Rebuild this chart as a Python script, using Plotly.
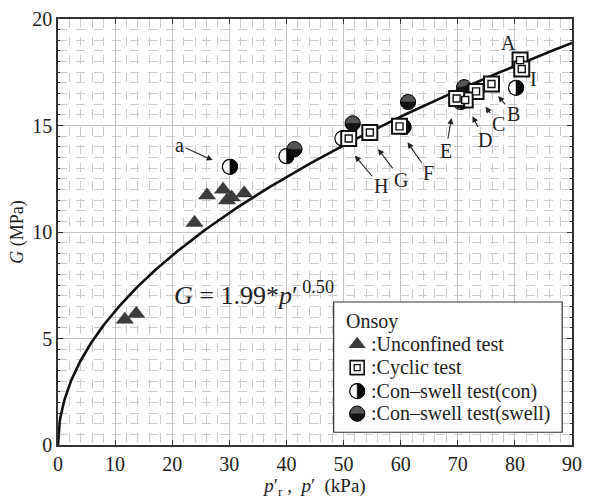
import numpy as np
import plotly.graph_objects as go

# ---- data ----
unc_x = [11.7, 13.7, 23.9, 26.1, 28.9, 29.6, 30.4, 32.6]
unc_y = [5.89, 6.16, 10.44, 11.72, 12.0, 11.49, 11.63, 11.82]

cyc_x = [80.9, 81.2, 75.9, 73.2, 71.3, 69.8, 59.8, 54.6, 50.9]
cyc_y = [18.07, 17.65, 16.95, 16.6, 16.2, 16.27, 14.96, 14.67, 14.39]
cyc_lab = ["A", "I", "B", "C", "D", "E", "F", "G", "H"]

con_x = [30.1, 40.0, 49.8, 60.5, 70.5, 80.2]
con_y = [13.06, 13.56, 14.39, 14.93, 16.1, 16.77]

swl_x = [41.4, 51.6, 61.3, 71.1]
swl_y = [13.89, 15.1, 16.1, 16.8]

fit_a = 1.99
fit_b = 0.50

# label text positions and arrow heads
lab_names = ["B", "C", "D", "E", "F", "G", "H", "a"]
lab_tx = [79.7, 77.1, 74.7, 67.9, 64.9, 60.1, 56.5, 21.3]
lab_ty = [15.54, 15.08, 14.34, 13.79, 12.78, 12.46, 12.14, 14.07]
lab_hx = [76.3, 74.1, 72.0, 69.1, 60.5, 55.3, 51.2, 28.2]
lab_hy = [16.64, 16.14, 15.72, 15.68, 14.48, 14.16, 13.84, 13.24]

leg_names = [":Unconfined test", ":Cyclic test", ":Con\u2013swell test(con)", ":Con\u2013swell test(swell)"]

FONT = "Liberation Serif"
TXT = "#222222"

# ---- geometry helpers (pixel, relative to anchor) ----
R = 7.5
K = 0.5523 * R


def full_circle(r=R, k=K):
    return (f"M {r},0 C {r},{k} {k},{r} 0,{r} C {-k},{r} {-r},{k} {-r},0 "
            f"C {-r},{-k} {-k},{-r} 0,{-r} C {k},{-r} {r},{-k} {r},0 Z")


def right_half(r=R, k=K):
    return f"M 0,{r} C {k},{r} {r},{k} {r},0 C {r},{-k} {k},{-r} 0,{-r} Z"


def top_half(r=R, k=K):
    return f"M {-r},0 C {-r},{k} {-k},{r} 0,{r} C {k},{r} {r},{k} {r},0 Z"


def bottom_half(r=R, k=K):
    return f"M {-r},0 C {-r},{-k} {-k},{-r} 0,{-r} C {k},{-r} {r},{-k} {r},0 Z"


def marker_shapes(xs, ys, kind, layer="between"):
    out = []
    for x, y in zip(xs, ys):
        base = dict(type="path", xref="x", yref="y", xanchor=x, yanchor=y,
                    xsizemode="pixel", ysizemode="pixel", layer=layer)
        if kind == "con":
            out.append(dict(base, path=full_circle(), fillcolor="white",
                            line=dict(color="black", width=1.2)))
            out.append(dict(base, path=right_half(), fillcolor="black",
                            line=dict(color="black", width=0.5)))
        else:
            out.append(dict(base, path=top_half(), fillcolor="#555555",
                            line=dict(color="#555555", width=0.5)))
            out.append(dict(base, path=bottom_half(), fillcolor="#111111",
                            line=dict(color="#111111", width=0.5)))
            out.append(dict(base, path=full_circle(), fillcolor="rgba(0,0,0,0)",
                            line=dict(color="black", width=1.0)))
    return out


fig = go.Figure()

# fit curve
px = np.linspace(0, 90, 600)
fig.add_trace(go.Scatter(x=px, y=fit_a * px ** fit_b, mode="lines",
                         line=dict(color="#111111", width=2.6),
                         showlegend=False, hoverinfo="skip"))

# unconfined test triangles
fig.add_trace(go.Scatter(x=unc_x, y=unc_y, mode="markers", showlegend=False,
                         marker=dict(symbol="triangle-up", size=15, color="#3c3c3c",
                                     line=dict(color="#3c3c3c", width=0.5))))

# cyclic test double squares
fig.add_trace(go.Scatter(x=cyc_x, y=cyc_y, mode="markers", showlegend=False,
                         marker=dict(symbol="square", size=15, color="white",
                                     line=dict(color="#111111", width=2))))
fig.add_trace(go.Scatter(x=cyc_x, y=cyc_y, mode="markers", showlegend=False,
                         marker=dict(symbol="square", size=7, color="white",
                                     line=dict(color="#111111", width=1.4))))

shapes = []
shapes += marker_shapes(con_x, con_y, "con")
shapes += marker_shapes(swl_x, swl_y, "swell")

annotations = []
LF = dict(family=FONT, size=20, color=TXT)
# A and I labels (no arrows)
annotations.append(dict(x=cyc_x[0] - 2.0, y=cyc_y[0] + 0.8, text="A", showarrow=False, font=LF))
annotations.append(dict(x=cyc_x[1] + 2.1, y=cyc_y[1] - 0.45, text="I", showarrow=False, font=LF))
for n, tx, ty, hx, hy in zip(lab_names, lab_tx, lab_ty, lab_hx, lab_hy):
    annotations.append(dict(x=hx, y=hy, ax=tx, ay=ty, axref="x", ayref="y",
                            xref="x", yref="y", text=n, showarrow=True,
                            arrowhead=2, arrowsize=1.1, arrowwidth=1.1,
                            arrowcolor=TXT, standoff=7, font=LF))

# equation
annotations.append(dict(x=19.9, y=7.1, xanchor="left", yanchor="middle",
                        text="<i>G</i> = 1.99*<i>p</i>\u2032<sup> 0.50</sup>",
                        showarrow=False, font=dict(family=FONT, size=26, color=TXT)))


# ---- custom legend box (layout positions converted from pixels) ----
def pxx(p):
    return (p - 58) * 90.0 / 524.0


def pxy(p):
    return (448 - p) * 20.0 / 435.0


shapes.append(dict(type="rect", xref="x", yref="y", x0=pxx(339), x1=pxx(572),
                   y0=pxy(435), y1=pxy(302), fillcolor="white",
                   line=dict(color="#333", width=1.2), layer="between"))
annotations.append(dict(x=pxx(350), y=pxy(322), xanchor="left",
                        yanchor="middle", text="Onsoy", showarrow=False, font=LF))
row_y = [pxy(345), pxy(369), pxy(393), pxy(416)]
sym_x = pxx(363)
for name, ry in zip(leg_names, row_y):
    annotations.append(dict(x=pxx(375), y=ry, xanchor="left",
                            yanchor="middle", text=name, showarrow=False, font=LF))

fig.add_trace(go.Scatter(x=[sym_x], y=[row_y[0]], mode="markers", showlegend=False,
                         marker=dict(symbol="triangle-up", size=15, color="#3c3c3c")))
fig.add_trace(go.Scatter(x=[sym_x], y=[row_y[1]], mode="markers", showlegend=False,
                         marker=dict(symbol="square", size=14, color="white",
                                     line=dict(color="#111", width=1.6))))
fig.add_trace(go.Scatter(x=[sym_x], y=[row_y[1]], mode="markers", showlegend=False,
                         marker=dict(symbol="square", size=6, color="white",
                                     line=dict(color="#111", width=1.3))))
shapes += marker_shapes([sym_x], [row_y[2]], "con")
shapes += marker_shapes([sym_x], [row_y[3]], "swell")

fig.update_layout(
    width=590, height=499,
    margin=dict(l=58, r=8, t=13, b=51),
    paper_bgcolor="white", plot_bgcolor="white",
    font=dict(family=FONT, size=20, color=TXT),
    shapes=shapes, annotations=annotations,
    xaxis=dict(range=[0, 90], dtick=10, showgrid=True, gridcolor="#c4c4c4", gridwidth=1,
               zeroline=False, showline=True, linecolor="#333", linewidth=1.5, mirror="ticks",
               ticks="inside", ticklen=5, tickcolor="#333",
               minor=dict(dtick=2, showgrid=True, gridcolor="#cccccc", griddash="dash",
                          ticks="", gridwidth=0.8),
               title=dict(text="<i>p</i>\u2032<sub>r</sub>\u00a0,\u00a0\u00a0<i>p</i>\u2032\u00a0\u00a0(kPa)",
                          font=dict(family=FONT, size=19, color=TXT), standoff=3),
               tickfont=dict(family=FONT, size=20, color=TXT)),
    yaxis=dict(range=[0, 20], dtick=5, showgrid=True, gridcolor="#c4c4c4", gridwidth=1,
               zeroline=False, showline=True, linecolor="#333", linewidth=1.5, mirror="ticks",
               ticks="inside", ticklen=5, tickcolor="#333",
               minor=dict(dtick=0.5, showgrid=True, gridcolor="#cccccc", griddash="dash",
                          ticks="inside", ticklen=2, gridwidth=0.8),
               title=dict(text="<i>G</i> (MPa)", font=dict(family=FONT, size=18, color=TXT),
                          standoff=4),
               tickfont=dict(family=FONT, size=20, color=TXT)),
)

fig.write_html("out.html")
